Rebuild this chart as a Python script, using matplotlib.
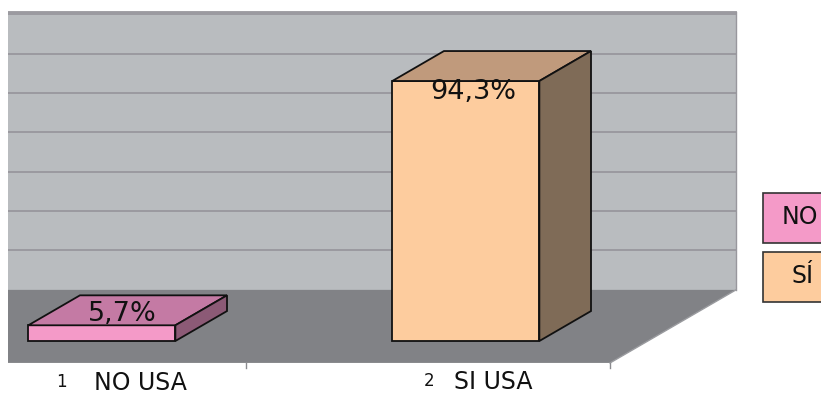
import matplotlib
matplotlib.use("Agg")
import matplotlib.pyplot as plt
from matplotlib.patches import Polygon, Rectangle

categories = ["NO USA", "SI USA"]
category_numbers = ["1", "2"]
values = [5.7, 94.3]
value_labels = ["5,7%", "94,3%"]
legend_labels = ["NO", "SÍ"]  # only the start of the legend shows in the picture
grid_values = [0, 100 / 7, 200 / 7, 300 / 7, 400 / 7, 500 / 7, 600 / 7, 100]

FRONT = ["#F49AC8", "#FDCC9E"]
TOP = ["#C47AA4", "#C09A7C"]
SIDE = ["#8C5A76", "#7F6B57"]
WALL = "#B9BCBF"
FLOOR = "#818286"
GRID = "#98979D"

# fake 3D: z runs from the front of the floor (0) to the back wall (1)
DX, DY = 0.346, 26.5
Z_FRONT, Z_BACK = 0.30, 0.71
BAR_W = 0.404
X_MIN, X_MAX = 0.5, 2.5


def proj(x, y, z):
    return (x + (z - Z_FRONT) * DX, y + (z - Z_FRONT) * DY)


fig = plt.figure(figsize=(8.21, 3.94), dpi=100)
ax = fig.add_axes([8 / 821, 0, 813 / 821, 1])
x_left = X_MIN + (1 - Z_FRONT) * DX
ax.set_xlim(x_left, x_left + 813 / 364)
ax.set_ylim(-19.22, 123.68)
ax.axis("off")

# back wall, gridlines and floor
wall = [proj(X_MIN, 0, 1), proj(X_MAX, 0, 1), proj(X_MAX, 100.7, 1), proj(X_MIN, 100.7, 1)]
ax.add_patch(Polygon(wall, closed=True, facecolor=WALL, edgecolor="none", zorder=1))
for g in grid_values[1:] + [100.7]:
    (xa, ya), (xb, yb) = proj(X_MIN, g, 1), proj(X_MAX, g, 1)
    ax.plot([xa, xb], [ya, yb], color=GRID, lw=1.3, zorder=1.5)
(xa, ya), (xb, yb) = proj(X_MAX, 0, 1), proj(X_MAX, 100.7, 1)
ax.plot([xa, xb], [ya, yb], color=GRID, lw=1.0, zorder=1.5)

floor = [proj(X_MIN, 0, 0), proj(X_MAX, 0, 0), proj(X_MAX, 0, 1), proj(X_MIN, 0, 1)]
ax.add_patch(Polygon(floor, closed=True, facecolor=FLOOR, edgecolor="none", zorder=2))
(xa, ya), (xb, yb) = proj(X_MAX, 0, 0), proj(X_MAX, 0, 1)
ax.plot([xa, xb], [ya, yb], color="#9A9B9F", lw=1.0, zorder=2.1)
for xt in [1.5, 2.5]:
    (xa, ya), (xb, yb) = proj(xt, 0, 0), proj(xt, -1.8, 0)
    ax.plot([xa, xb], [ya, yb], color="#8A8B8F", lw=1.0, zorder=2.1)

# bars
for i, v in enumerate(values):
    xc = i + 1
    x0, x1 = xc - BAR_W / 2, xc + BAR_W / 2
    faces = [
        ([proj(x0, 0, Z_FRONT), proj(x1, 0, Z_FRONT), proj(x1, v, Z_FRONT), proj(x0, v, Z_FRONT)], FRONT[i]),
        ([proj(x0, v, Z_FRONT), proj(x1, v, Z_FRONT), proj(x1, v, Z_BACK), proj(x0, v, Z_BACK)], TOP[i]),
        ([proj(x1, 0, Z_FRONT), proj(x1, 0, Z_BACK), proj(x1, v, Z_BACK), proj(x1, v, Z_FRONT)], SIDE[i]),
    ]
    for pts, col in faces:
        ax.add_patch(Polygon(pts, closed=True, facecolor=col, edgecolor="#111111",
                             lw=1.3, joinstyle="miter", zorder=3))

# value labels
label_offsets = [(0.056, 4.1), (0.02, -4.0)]
for i, (v, lab) in enumerate(zip(values, value_labels)):
    dx, dy = label_offsets[i]
    ax.text(i + 1 + dx, v + dy, lab, ha="center", va="center", fontsize=19.5,
            family="DejaVu Sans", color="#111111", zorder=4)

# category labels
name_pos = [(0.105, -10.7), (0.076, -10.4)]
num_pos = [(-0.11, -15.0), (-0.10, -14.5)]
for i, (num, name) in enumerate(zip(category_numbers, categories)):
    ax.text(i + 1 + num_pos[i][0], num_pos[i][1], num, ha="center", va="center",
            fontsize=12, family="DejaVu Sans", color="#111111")
    ax.text(i + 1 + name_pos[i][0], name_pos[i][1], name, ha="center", va="top",
            fontsize=17, family="DejaVu Sans", color="#111111")

# legend (cut by the right edge of the image)
for k, (lab, col) in enumerate(zip(legend_labels, FRONT)):
    top_px = 193 + k * 59
    fig.patches.append(Rectangle((763 / 821, (394 - top_px - 50) / 394), 128 / 821, 50 / 394,
                                 transform=fig.transFigure, facecolor=col,
                                 edgecolor="#333333", lw=1.2))
    fig.text((782 + k * 9) / 821, (394 - top_px - 24) / 394, lab, ha="left", va="center",
             fontsize=17, family="DejaVu Sans", color="#111111")

fig.savefig("out.png", dpi=100, facecolor="white")
